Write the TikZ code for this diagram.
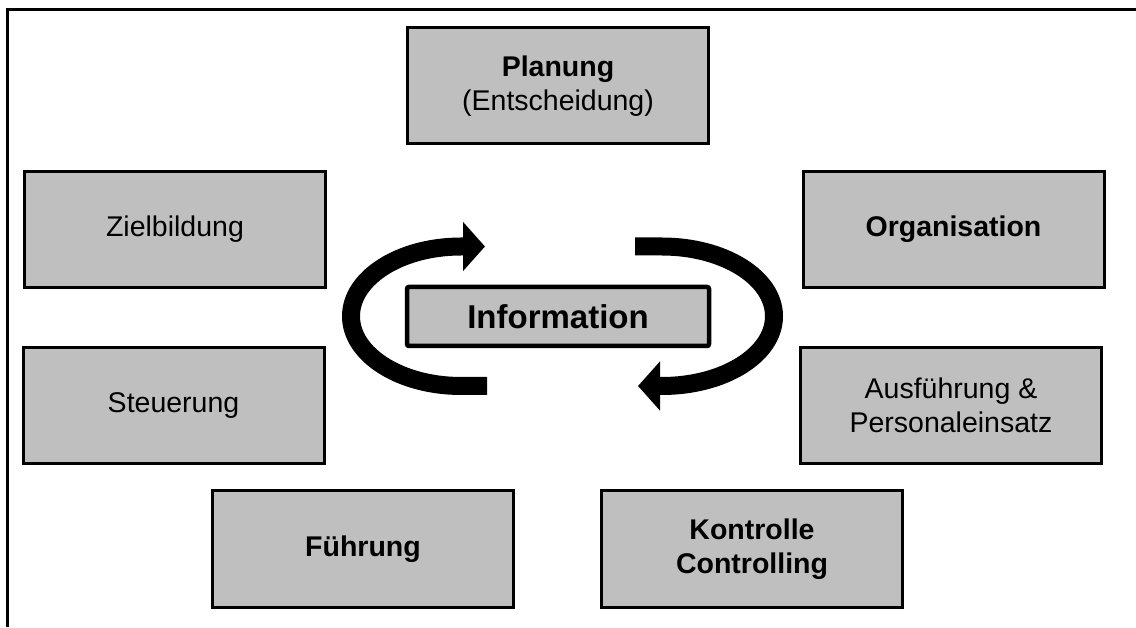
\documentclass[tikz,border=0pt]{standalone}
\usepackage{fontspec}
\setmainfont{Liberation Sans}
\usetikzlibrary{arrows.meta}
\definecolor{boxgray}{RGB}{191,191,191}
\begin{document}
\begin{tikzpicture}[x=1pt,y=1pt,
  box/.style={draw=black, line width=3pt, fill=boxgray, minimum width=301pt,
    minimum height=116pt, inner sep=0pt, align=center,
    font=\fontsize{28.5}{34}\selectfont},
  infobox/.style={draw=black, line width=4.5pt, fill=boxgray, rounded corners=2pt,
    minimum width=302pt, minimum height=59pt, inner sep=0pt, align=center,
    font=\fontsize{33}{38}\selectfont\bfseries},
  framestyle/.style={line width=3pt},
  cycle/.style={line width=18pt, -{Triangle[length=22pt,width=48pt]}}]
\useasboundingbox (0,0) rectangle (1136,627);
% frame (top and left only)
\draw[framestyle] (7,0) -- (7,617) -- (1136,617);
% boxes
\node[box] (plan) at (558,541) {\textbf{Planung}\\(Entscheidung)};
\node[box] (ziel) at (175,397.5) {Zielbildung};
\node[box] (orga) at (953.5,397.5) {\textbf{Organisation}};
\node[box] (steu) at (173.5,221.5) {Steuerung};
\node[box] (ausf) at (951,221.5) {Ausführung \&\\Personaleinsatz};
\node[box] (fuehr) at (363,78) {\textbf{Führung}};
\node[box] (kontr) at (752,78) {\textbf{Kontrolle}\\\textbf{Controlling}};
\node[infobox] (info) at (558,310.5) {Information};
% cycle arrows
\coordinate (ltail) at (487,241);
\coordinate (ltip) at (485,380.5);
\coordinate (rtail) at (635,380.5);
\coordinate (rtip) at (638,241);
\draw[cycle] (ltail) -- (461,241) arc[start angle=270, end angle=90, x radius=110, y radius=69.75] -- (ltip);
\draw[cycle] (rtail) -- (662,380.5) arc[start angle=90, end angle=-90, x radius=112, y radius=69.75] -- (rtip);
\end{tikzpicture}
\end{document}
